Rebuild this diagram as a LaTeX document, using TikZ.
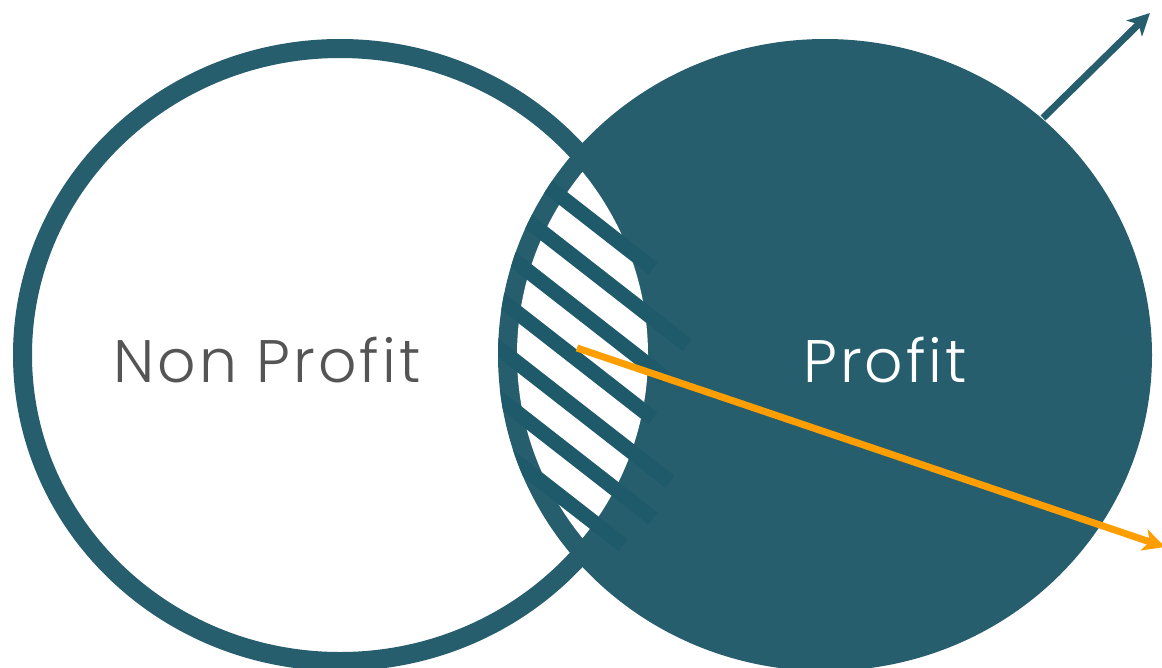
\documentclass[tikz,border=0pt]{standalone}
\usepackage{fontspec}
\setmainfont{Poppins}
\newfontfamily\labelfont{Poppins Light}[LetterSpace=5]
\usepackage{tikz}
\usetikzlibrary{arrows.meta,positioning,calc}
\definecolor{ringblue}{RGB}{39,94,110}
\definecolor{stripeblue}{RGB}{31,90,106}
\definecolor{arroworange}{RGB}{255,158,0}
\definecolor{labelgrey}{RGB}{85,85,85}

\begin{document}
\begin{tikzpicture}[x=1pt, y=-1pt,
    circle label/.style={font=\labelfont\fontsize{60}{72}\selectfont, anchor=base, inner sep=0pt},
    hatch/.style={stripeblue, line width=15pt},
    pointer/.style={line width=7pt, -{Stealth[length=22pt, width=22pt, inset=6pt]}}]
    \useasboundingbox (0,0) rectangle (1162,667);
    % profit set
    \fill[ringblue] (825,355) ellipse [x radius=327, y radius=316];
    % non profit set
    \draw[ringblue, line width=19pt] (340,355) ellipse [x radius=317.5, y radius=306.5];
    % overlap
    \begin{scope}
        \clip (340,355) ellipse [x radius=308, y radius=297];
        \clip (825,355) ellipse [x radius=308, y radius=297];
        \fill[white] (400,0) rectangle (800,667);
    \end{scope}
    \begin{scope}
        \clip (825,355) ellipse [x radius=327, y radius=316];
        \foreach \y/\xe in {157/653, 207/687, 257/665, 307/653, 357/670, 407/653, 457/623}
            \draw[hatch] (470,{\y-0.78*40}) -- (\xe,{\y+0.78*(\xe-510)});
    \end{scope}
    \node[circle label, text=labelgrey] (nonprofit) at (267,382) {Non Profit};
    \node[circle label, text=white] (profit) at (885,382) {Profit};
    \coordinate (growth start) at (1043,118);
    \coordinate (growth tip) at (1150,13);
    \coordinate (shift start) at (577,348);
    \coordinate (shift tip) at (1165,547);
    \draw[pointer, ringblue] (growth start) -- (growth tip);
    \draw[pointer, arroworange] (shift start) -- (shift tip);
\end{tikzpicture}
\end{document}
